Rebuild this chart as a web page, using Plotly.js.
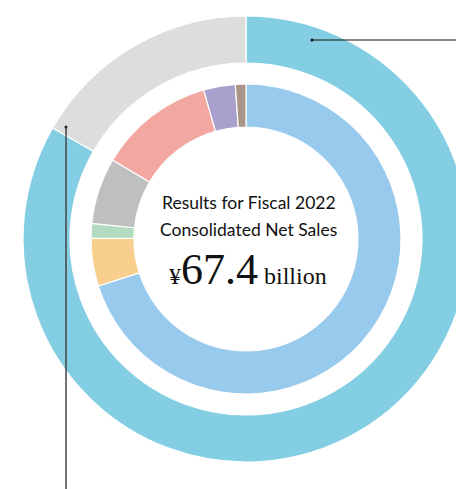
<!DOCTYPE html>
<html><head><meta charset="utf-8">
<script src="https://cdn.plot.ly/plotly-3.0.1.min.js"></script>
<style>html,body{margin:0;padding:0;overflow:hidden;background:#fff;width:456px;height:489px}#chart{width:500px;height:489px}</style>
</head><body><div id="chart"></div>
<script>
// Outer ring (share of consolidated net sales, %)
const outerLabels = ["Region A", "Region B"];
const outerValues = [83.3, 16.7];
const outerColors = ["#83CEE2", "#DCDDDD"];

// Inner ring (share by business, %)
const innerLabels = ["Business 1", "Business 2", "Business 3", "Business 4", "Business 5", "Business 6", "Business 7"];
const innerValues = [70.1, 5.0, 1.5, 6.9, 12.1, 3.3, 1.1];
const innerColors = ["#97CAED", "#F9CF8E", "#B3DBC0", "#BEC0BF", "#F2A7A1", "#A9A0CD", "#A99689"];

const W = 500, H = 489;
const cx = 246, cy = 239;
function dom(r) {
  return {
    x: [(cx - r) / W, (cx + r) / W],
    y: [(H - cy - r) / H, (H - cy + r) / H]
  };
}
const px = x => x / W;
const py = y => (H - y) / H;

const common = {
  type: "pie", sort: false, direction: "clockwise", rotation: 0,
  textinfo: "none", hoverinfo: "label+percent", showlegend: false
};

const data = [
  Object.assign({}, common, {
    labels: outerLabels, values: outerValues,
    marker: {colors: outerColors, line: {color: "#ffffff", width: 1.2}},
    hole: 176 / 223, domain: dom(223)
  }),
  Object.assign({}, common, {
    labels: innerLabels, values: innerValues,
    marker: {colors: innerColors, line: {color: "#ffffff", width: 1.2}},
    hole: 112 / 155, domain: dom(155)
  })
];

const sans = "Lato, 'Open Sans', sans-serif";
const layout = {
  width: W, height: H,
  margin: {l: 0, r: 0, t: 0, b: 0},
  paper_bgcolor: "#ffffff",
  annotations: [
    {text: "Results for Fiscal 2022", x: px(248.5), y: py(202), xref: "paper", yref: "paper",
     showarrow: false, font: {family: sans, size: 17.5, color: "#111"}},
    {text: "Consolidated Net Sales", x: px(248), y: py(229), xref: "paper", yref: "paper",
     showarrow: false, font: {family: sans, size: 17.5, color: "#111"}},
    {text: "¥<span style='font-size:44px'>67.4</span> billion", x: px(248), y: py(269), xref: "paper", yref: "paper",
     showarrow: false, font: {family: "'Liberation Serif', 'DejaVu Serif', serif", size: 24, color: "#111"}}
  ],
  shapes: [
    {type: "line", xref: "paper", yref: "paper", x0: px(312), y0: py(40), x1: px(470), y1: py(40),
     line: {color: "#111", width: 1}},
    {type: "circle", xref: "paper", yref: "paper", x0: px(310.5), y0: py(38.5), x1: px(313.5), y1: py(41.5),
     fillcolor: "#111", line: {width: 0}},
    {type: "line", xref: "paper", yref: "paper", x0: px(66), y0: py(127), x1: px(66), y1: py(495),
     line: {color: "#444", width: 1.5}},
    {type: "circle", xref: "paper", yref: "paper", x0: px(64.5), y0: py(125.5), x1: px(67.5), y1: py(128.5),
     fillcolor: "#222", line: {width: 0}}
  ]
};

Plotly.newPlot("chart", data, layout, {displayModeBar: false, staticPlot: true});
</script></body></html>
